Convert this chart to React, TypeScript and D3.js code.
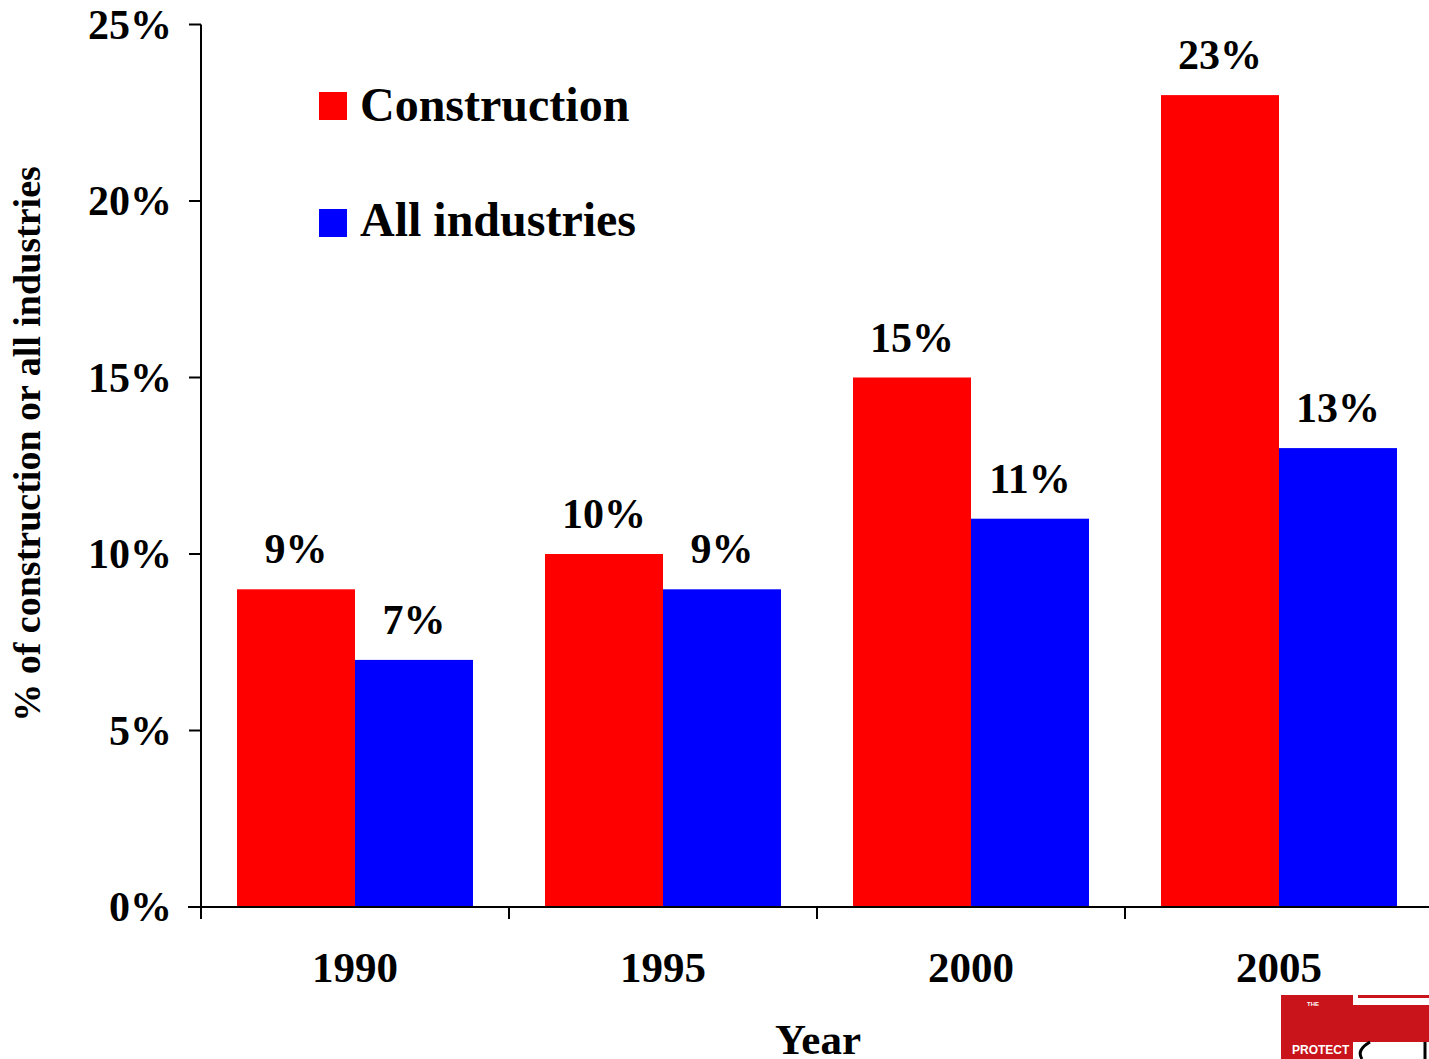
import React from "react";
import * as d3 from "d3";

const years = ["1990", "1995", "2000", "2005"];
const construction = [9, 10, 15, 23];
const allIndustries = [7, 9, 11, 13];
const seriesNames = ["Construction", "All industries"];
const seriesColors = ["#FF0000", "#0000FF"];
const yTicks = [0, 5, 10, 15, 20, 25];

const W = 1429;
const H = 1059;
const FONT = "'Liberation Serif', 'Times New Roman', serif";

export default function App() {
  const x0 = d3.scaleBand<string>().domain(years).range([201, 1433]).padding(0);
  const x1 = d3
    .scaleBand<string>()
    .domain(seriesNames)
    .range([0, x0.bandwidth()])
    .paddingInner(0)
    .paddingOuter(0.305);
  const y = d3.scaleLinear().domain([0, 25]).range([907, 24.5]);

  const seriesValues = [construction, allIndustries];

  return (
    <div style={{ position: "absolute", left: 0, top: 0 }}>
      <svg width={W} height={H} style={{ display: "block" }} fontFamily={FONT} fontWeight="bold">
        <rect x={0} y={0} width={W} height={H} fill="#fff" />
        {/* bars */}
        {years.map((yr, i) =>
          seriesNames.map((s, j) => {
            const v = seriesValues[j][i];
            const bx = (x0(yr) as number) + (x1(s) as number);
            return (
              <g key={yr + s}>
                <rect x={bx} y={y(v)} width={x1.bandwidth()} height={y(0) - y(v)} fill={seriesColors[j]} />
                <text x={bx + x1.bandwidth() / 2} y={y(v) - 26} textAnchor="middle" fontSize={42} fill="#000">
                  {d3.format("d")(v) + "%"}
                </text>
              </g>
            );
          })
        )}
        {/* y axis */}
        <line x1={201} x2={201} y1={y(25)} y2={y(0)} stroke="#000" strokeWidth={2} />
        {yTicks.map((t) => (
          <g key={t}>
            <line x1={189} x2={201} y1={y(t)} y2={y(t)} stroke="#000" strokeWidth={2} />
            <text x={172} y={y(t) + 14} textAnchor="end" fontSize={42} fill="#000">
              {t + "%"}
            </text>
          </g>
        ))}
        {/* x axis */}
        <line x1={188} x2={W} y1={y(0)} y2={y(0)} stroke="#000" strokeWidth={2} />
        {years.map((yr) => (
          <line key={"t" + yr} x1={x0(yr) as number} x2={x0(yr) as number} y1={y(0)} y2={y(0) + 12} stroke="#000" strokeWidth={2} />
        ))}
        {years.map((yr) => (
          <text key={"l" + yr} x={(x0(yr) as number) + x0.bandwidth() / 2} y={982} textAnchor="middle" fontSize={43} fill="#000">
            {yr}
          </text>
        ))}
        {/* axis titles */}
        <text x={818} y={1054} textAnchor="middle" fontSize={43} fill="#000">Year</text>
        <text transform="translate(40,444) rotate(-90)" textAnchor="middle" fontSize={38} fill="#000">
          % of construction or all industries
        </text>
        {/* legend */}
        {seriesNames.map((s, j) => (
          <g key={"lg" + s}>
            <rect x={319} y={92 + j * 117} width={28} height={28} fill={seriesColors[j]} />
            <text x={360} y={121 + j * 115} fontSize={48} fill="#000">{s}</text>
          </g>
        ))}
        {/* logo fragment bottom right */}
        <g>
          <rect x={1281} y={995} width={72} height={64} fill="#C8141A" />
          <rect x={1353} y={1005} width={76} height={37} fill="#C8141A" />
          <rect x={1358} y={995} width={71} height={3} fill="#C8141A" />
          <text x={1292} y={1054} fontSize={12} fill="#fff" fontFamily="'Liberation Sans', Arial, sans-serif">PROTECT</text>
          <text x={1307} y={1006} fontSize={6} fill="#fff" fontFamily="'Liberation Sans', Arial, sans-serif">THE</text>
          <path d="M1370,1042 Q1356,1050 1362,1059" fill="none" stroke="#000" strokeWidth={3} />
          <path d="M1425,1042 L1425,1059" fill="none" stroke="#000" strokeWidth={3} />
        </g>
      </svg>
    </div>
  );
}
